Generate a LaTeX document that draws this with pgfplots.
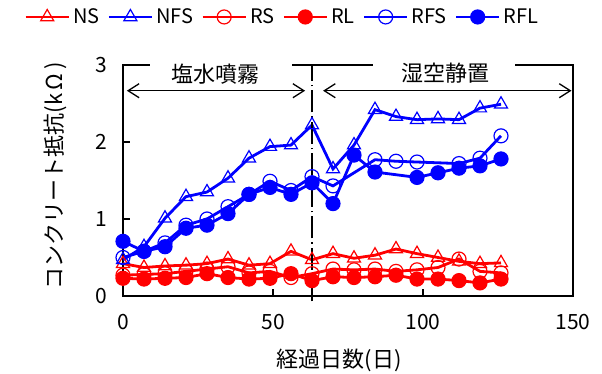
\documentclass[border=0pt]{standalone}
\usepackage{pgfplots}
\pgfplotsset{compat=1.18}
\usepackage{fontspec}
\setmainfont{Noto Sans CJK JP}
\usetikzlibrary{arrows.meta}
\definecolor{pr}{RGB}{255,0,0}
\definecolor{pb}{RGB}{0,0,255}
\begin{document}
\begin{tikzpicture}
\path[use as bounding box] (0,0) rectangle (602bp,374bp);
\begin{axis}[
 at={(123bp,78bp)}, anchor=south west,
 scale only axis, width=450bp, height=231bp,
 xmin=0, xmax=150, ymin=0, ymax=3,
 xtick={0,50,100,150}, ytick={0,1,2,3},
 tick align=inside, tick pos=left, major tick length=7bp,
 every tick/.style={black, line width=1.2bp},
 axis line style={line width=1.3bp},
 tick label style={font=\fontsize{21bp}{21bp}\selectfont},
 /pgf/number format/assume math mode=true,
 xticklabel style={yshift=-15bp},
 yticklabel style={xshift=-12bp},
 xlabel={経過日数(日)}, ylabel={コンクリート抵抗(k\,Ω\,)},
 label style={font=\fontsize{22bp}{22bp}\selectfont},
 xlabel style={at={(axis description cs:0.48,-0.277)}, anchor=center},
 ylabel style={at={(axis description cs:-0.151,0.52)}, anchor=center},
 clip=false,
 legend columns=6,
 legend style={at={(axis description cs:0.355,1.208)}, anchor=center, draw=none, fill=none,
   font=\fontsize{20bp}{20bp}\selectfont,
   /tikz/every even column/.append style={column sep=5bp},
   nodes={inner xsep=3bp, inner ysep=1bp}},
 legend image code/.code={\draw[mark repeat=2,mark phase=2] plot coordinates {(0bp,0bp)(21.5bp,0bp)(43bp,0bp)};},
]
\addplot[pr, line width=2.8bp, mark=triangle, mark size=7.5bp, mark options={solid, line width=1.2bp}] coordinates {
(0,0.42)(7,0.37)(14,0.39)(21,0.40)(28,0.42)(35,0.48)(42,0.40)(49,0.42)(56,0.58)(63,0.47)(70,0.55)(77,0.49)(84,0.53)(91,0.61)(98,0.55)(105,0.50)(112,0.45)(119,0.42)(126,0.43)};
\addlegendentry{NS}
\addplot[pb, line width=2.8bp, mark=triangle, mark size=7.5bp, mark options={solid, line width=1.2bp}] coordinates {
(0,0.47)(7,0.64)(14,1.01)(21,1.29)(28,1.35)(35,1.53)(42,1.79)(49,1.94)(56,1.96)(63,2.22)(70,1.65)(77,1.96)(84,2.42)(91,2.33)(98,2.29)(105,2.30)(112,2.29)(119,2.44)(126,2.49)};
\addlegendentry{NFS}
\addplot[pr, line width=2.8bp, mark=o, mark size=7bp, mark options={solid, line width=1.2bp}] coordinates {
(0,0.27)(7,0.28)(14,0.29)(21,0.32)(28,0.35)(35,0.38)(42,0.30)(49,0.32)(56,0.24)(63,0.29)(70,0.35)(77,0.34)(84,0.35)(91,0.32)(98,0.34)(105,0.37)(112,0.48)(119,0.32)(126,0.30)};
\addlegendentry{RS}
\addplot[pr, line width=2.8bp, mark=*, mark size=7bp, mark options={solid, line width=1.2bp, fill=pr}] coordinates {
(0,0.23)(7,0.22)(14,0.23)(21,0.24)(28,0.29)(35,0.24)(42,0.22)(49,0.23)(56,0.29)(63,0.20)(70,0.25)(77,0.24)(84,0.25)(91,0.27)(98,0.22)(105,0.22)(112,0.20)(119,0.17)(126,0.22)};
\addlegendentry{RL}
\addplot[pb, line width=2.8bp, mark=o, mark size=7bp, mark options={solid, line width=1.2bp}] coordinates {
(0,0.50)(7,0.58)(14,0.69)(21,0.92)(28,1.00)(35,1.16)(42,1.32)(49,1.49)(56,1.37)(63,1.55)(70,1.43)(84,1.77)(91,1.75)(98,1.74)(112,1.72)(119,1.79)(126,2.08)};
\addlegendentry{RFS}
\addplot[pb, line width=2.8bp, mark=*, mark size=7bp, mark options={solid, line width=1.2bp, fill=pb}] coordinates {
(0,0.71)(7,0.58)(14,0.64)(21,0.88)(28,0.92)(35,1.07)(42,1.32)(49,1.41)(56,1.32)(63,1.47)(70,1.20)(77,1.83)(84,1.61)(98,1.54)(105,1.60)(112,1.66)(119,1.69)(126,1.78)};
\addlegendentry{RFL}
\draw[{Straight Barb[length=11bp,width=14bp]}-{Straight Barb[length=11bp,width=14bp]}, line width=1.3bp] (axis cs:1.3,2.666) -- (axis cs:60.7,2.666);
\draw[{Straight Barb[length=11bp,width=14bp]}-{Straight Barb[length=11bp,width=14bp]}, line width=1.3bp] (axis cs:66.7,2.666) -- (axis cs:149.5,2.666);
\draw[line width=1.3bp, dash pattern=on 22bp off 4bp on 1.5bp off 4bp] (axis cs:63,-0.07) -- (axis cs:63,3);
\end{axis}
\fill[white] (150bp,304bp) rectangle (292bp,314bp);
\fill[white] (373bp,304bp) rectangle (515bp,314bp);
\node[inner sep=0pt, font=\fontsize{22bp}{22bp}\selectfont] at (215bp,300bp) {塩水噴霧};
\node[inner sep=0pt, font=\fontsize{22bp}{22bp}\selectfont] at (445bp,300.5bp) {湿空静置};
\end{tikzpicture}
\end{document}
